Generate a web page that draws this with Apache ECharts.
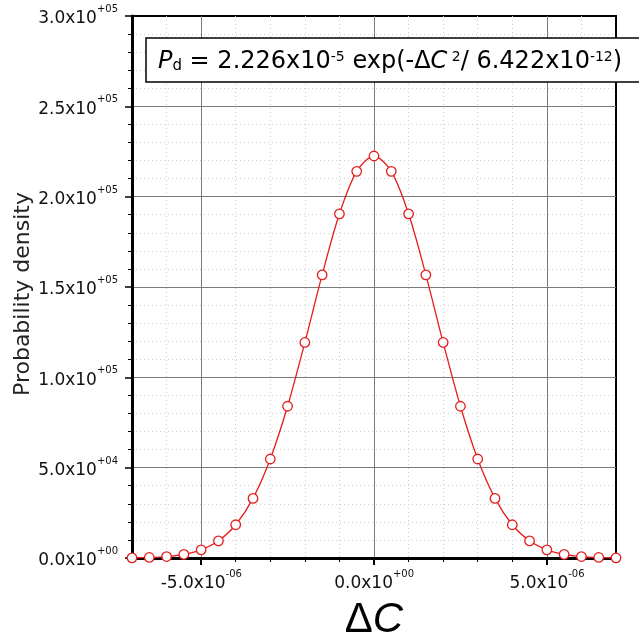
<!DOCTYPE html>
<html><head><meta charset="utf-8">
<script src="https://cdn.jsdelivr.net/npm/echarts@6/dist/echarts.min.js"></script>
<style>html,body{margin:0;padding:0;background:#fff}#c{width:639px;height:642px}</style>
</head><body><div id="c"></div>
<script>
// ΔC values (x)
const deltaC = [-7.0e-6,-6.5e-6,-6.0e-6,-5.5e-6,-5.0e-6,-4.5e-6,-4.0e-6,-3.5e-6,-3.0e-6,-2.5e-6,-2.0e-6,-1.5e-6,-1.0e-6,-0.5e-6,0,
  0.5e-6,1.0e-6,1.5e-6,2.0e-6,2.5e-6,3.0e-6,3.5e-6,4.0e-6,4.5e-6,5.0e-6,5.5e-6,6.0e-6,6.5e-6,7.0e-6];
// probability density (y)
const density = [100,300,800,2000,4500,9500,18400,33000,54800,84000,119300,156700,190500,214000,222500,
  214000,190500,156700,119300,84000,54800,33000,18400,9500,4500,2000,800,300,100];
const xMajorTicks = [-5e-6, 0, 5e-6];
const xMin = -7e-6, xMax = 7e-6, xMinorStep = 1e-6;
const yMin = 0, yMax = 3e5, yStep = 5e4;

function sci(v){
  let s;
  if (Math.abs(v) < 1e-30) s = '{m|0.0x10}{e|+00}';
  else {
    let ex = Math.floor(Math.log10(Math.abs(v)) + 1e-9);
    let man = v / Math.pow(10, ex);
    let es = (ex < 0 ? '-' : '+') + String(Math.abs(ex)).padStart(2,'0');
    s = '{m|' + man.toFixed(1) + 'x10}{e|' + es + '}';
  }
  return '{s| }' + s;
}
const LF = 'DejaVu Sans';
const labelRich = {
  s:{fontFamily:LF, fontSize:1, lineHeight:23},
  m:{fontFamily:LF, fontSize:17, lineHeight:17, color:'#111', verticalAlign:'bottom'},
  e:{fontFamily:LF, fontSize:10, lineHeight:9.5, color:'#111', verticalAlign:'top'}
};
const TF = 'DejaVu Sans';
const chart = echarts.init(document.getElementById('c'), null, {renderer:'canvas'});
chart.setOption({
  animation:false,
  backgroundColor:'#fff',
  title:{
    text:'{i|P}{sub|d}{n| = 2.226x10}{sup|-5}{n| exp(-Δ}{i|C}{sup| 2}{n|/ 6.422x10}{sup|-12}{n|)}',
    left:146, top:38, padding:[12,25,8,12],
    borderColor:'#000', borderWidth:1.5, backgroundColor:'#fff', z:10,
    textStyle:{fontWeight:'normal', rich:{
      n:{fontFamily:TF, fontSize:24, lineHeight:24, fontWeight:'normal', color:'#000', verticalAlign:'bottom'},
      i:{fontFamily:TF, fontSize:24, lineHeight:24, fontWeight:'normal', fontStyle:'italic', color:'#000', verticalAlign:'bottom'},
      sub:{fontFamily:TF, fontSize:15, lineHeight:20, fontWeight:'normal', color:'#000', verticalAlign:'bottom'},
      sup:{fontFamily:TF, fontSize:14, lineHeight:14, fontWeight:'normal', color:'#000', verticalAlign:'top'}
    }}
  },
  grid:{left:132, right:23, top:16, bottom:84, outerBoundsMode:'none', containLabel:false,
    show:true, borderColor:'#000', borderWidth:2, backgroundColor:'transparent'},
  xAxis:[
    {type:'value', min:xMin, max:xMax, position:'bottom', z:2,
     axisLine:{show:true, onZero:false, lineStyle:{color:'#000', width:3}},
     axisTick:{show:true, customValues:xMajorTicks, length:7, lineStyle:{color:'#000', width:2}},
     axisLabel:{customValues:xMajorTicks, margin:11, formatter:v=>sci(v), rich:labelRich},
     splitLine:{show:true, lineStyle:{color:'#7a7a7a', width:1}},
     name:'{d|Δ}{c|C}', nameLocation:'middle', nameGap:41, nameMoveOverlap:false,
     nameTextStyle:{rich:{d:{fontFamily:'Liberation Sans', fontSize:42, color:'#000'}, c:{fontFamily:'Liberation Sans', fontSize:42, fontStyle:'italic', color:'#000'}}}
    },
    {type:'value', min:xMin, max:xMax, interval:xMinorStep, position:'bottom', z:0,
     axisLine:{show:false}, axisTick:{show:true, length:4, lineStyle:{color:'#000', width:1}},
     axisLabel:{show:false},
     splitLine:{show:true, showMinLine:false, showMaxLine:false, lineStyle:{color:'#cfcfcf', width:1, type:[1,3]}}
    }
  ],
  yAxis:{type:'value', min:yMin, max:yMax, interval:yStep, z:1,
    axisLine:{show:true, onZero:false, lineStyle:{color:'#000', width:3}},
    axisTick:{show:true, length:7, lineStyle:{color:'#000', width:1.5}},
    minorTick:{show:true, splitNumber:5, length:4, lineStyle:{color:'#000', width:1}},
    minorSplitLine:{show:true, lineStyle:{color:'#cfcfcf', width:1, type:[1,3]}},
    splitLine:{show:true, showMinLine:false, showMaxLine:false, lineStyle:{color:'#7a7a7a', width:1}},
    axisLabel:{margin:14, formatter:v=>sci(v), rich:labelRich},
    name:'Probability density', nameLocation:'middle', nameGap:98, nameMoveOverlap:false,
    nameTextStyle:{fontFamily:'DejaVu Sans', fontSize:22, color:'#222', padding:[0,14,0,0]}
  },
  series:[{
    type:'line', xAxisIndex:0, smooth:0.3, clip:false,
    data: deltaC.map((x,i)=>[x, density[i]]),
    symbol:'circle', symbolSize:9.5,
    lineStyle:{color:'#e41e1e', width:1.3},
    itemStyle:{color:'#fff', borderColor:'#e41e1e', borderWidth:1.3},
    z:5
  }]
});
</script></body></html>
